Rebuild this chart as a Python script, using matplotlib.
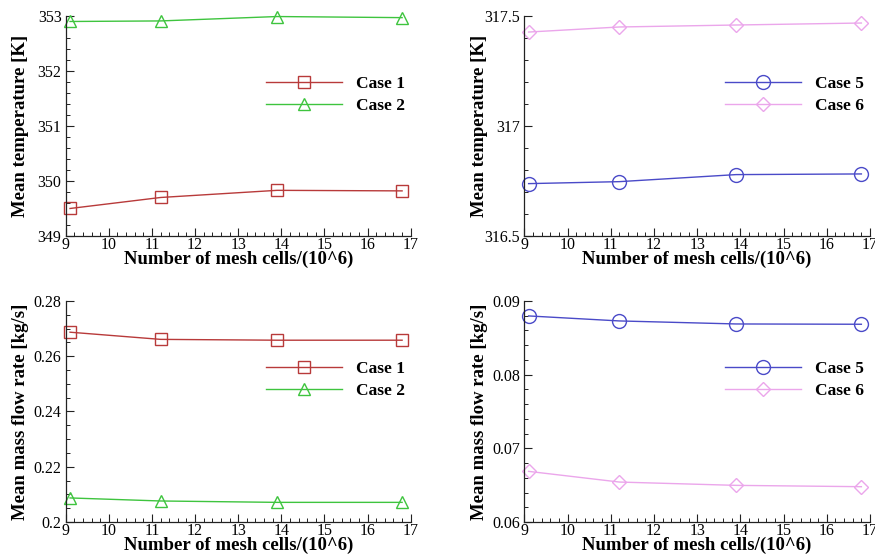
import numpy as np
import matplotlib
matplotlib.use("Agg")
import matplotlib.pyplot as plt
from matplotlib.ticker import MultipleLocator, AutoMinorLocator

plt.rcParams['font.family'] = ['Liberation Serif', 'DejaVu Serif']

# mesh sizes (millions of cells)
cells = [9.1, 11.2, 13.9, 16.8]

# mean temperature [K]
temp_case1 = [349.50, 349.70, 349.83, 349.82]
temp_case2 = [352.90, 352.91, 352.99, 352.97]
temp_case5 = [316.738, 316.747, 316.779, 316.782]
temp_case6 = [317.427, 317.450, 317.459, 317.468]

# mean mass flow rate [kg/s]
flow_case1 = [0.2687, 0.2661, 0.2658, 0.2658]
flow_case2 = [0.2087, 0.2076, 0.2071, 0.2071]
flow_case5 = [0.08797, 0.08729, 0.08688, 0.08684]
flow_case6 = [0.06687, 0.06542, 0.06497, 0.06479]

red = '#b83a3a'
green = '#3ec43e'
blue = '#4a4ac8'
pink = '#eba6eb'

fig = plt.figure(figsize=(8.75, 5.55), dpi=100)

ax_tl = fig.add_axes([0.0751, 0.5748, 0.3943, 0.3964])
ax_tr = fig.add_axes([0.5992, 0.5748, 0.3951, 0.3964])
ax_bl = fig.add_axes([0.0751, 0.0595, 0.3943, 0.3982])
ax_br = fig.add_axes([0.5992, 0.0595, 0.3951, 0.3982])


def style(ax, ylim, ymajor, yminor_n, ylabel):
    ax.set_xlim(9, 17)
    ax.set_ylim(*ylim)
    ax.xaxis.set_major_locator(MultipleLocator(1))
    ax.xaxis.set_minor_locator(AutoMinorLocator(5))
    ax.yaxis.set_major_locator(MultipleLocator(ymajor))
    ax.yaxis.set_minor_locator(AutoMinorLocator(yminor_n))
    ax.spines['top'].set_visible(False)
    ax.spines['right'].set_visible(False)
    for s in ('left', 'bottom'):
        ax.spines[s].set_linewidth(0.9)
        ax.spines[s].set_color('#222222')
    ax.tick_params(which='both', direction='in', labelsize=11.5, colors='#222222',
                   labelcolor='black')
    ax.tick_params(which='major', length=6, width=0.8, pad=3)
    ax.tick_params(axis='x', which='major', pad=1)
    ax.tick_params(which='minor', length=3, width=0.7)
    ax.set_xlabel('Number of mesh cells/(10^6)', fontsize=13.5, fontweight='bold')
    ax.xaxis.set_label_coords(0.5, -0.068)
    ax.set_ylabel(ylabel, fontsize=13.5, fontweight='bold')
    ax.yaxis.set_label_coords(-0.105, 0.5)


def legend(ax):
    ax.legend(loc='upper left', bbox_to_anchor=(0.534, 0.80), frameon=False,
              handlelength=4.4, handletextpad=0.8, labelspacing=0.35,
              prop={'weight': 'bold', 'size': 12.5})


# temperature, cases 1 and 2
ax_tl.plot(cells, temp_case1, color=red, lw=1.0, marker='s', ms=8,
           mfc='none', mec=red, mew=1.0, label='Case 1')
ax_tl.plot(cells, temp_case2, color=green, lw=1.0, marker='^', ms=9,
           mfc='none', mec=green, mew=1.0, label='Case 2')
style(ax_tl, (349, 353), 1, 5, 'Mean temperature [K]')
ax_tl.yaxis.set_major_formatter(plt.FormatStrFormatter('%d'))
legend(ax_tl)

# temperature, cases 5 and 6
ax_tr.plot(cells, temp_case5, color=blue, lw=1.0, marker='o', ms=10,
           mfc='none', mec=blue, mew=1.0, label='Case 5')
ax_tr.plot(cells, temp_case6, color=pink, lw=1.0, marker='D', ms=7.5,
           mfc='none', mec=pink, mew=1.0, label='Case 6')
style(ax_tr, (316.5, 317.5), 0.5, 5, 'Mean temperature [K]')
ax_tr.yaxis.set_major_formatter(plt.FuncFormatter(lambda v, p: f'{v:g}'))
legend(ax_tr)

# mass flow rate, cases 1 and 2
ax_bl.plot(cells, flow_case1, color=red, lw=1.0, marker='s', ms=8,
           mfc='none', mec=red, mew=1.0, label='Case 1')
ax_bl.plot(cells, flow_case2, color=green, lw=1.0, marker='^', ms=9,
           mfc='none', mec=green, mew=1.0, label='Case 2')
style(ax_bl, (0.2, 0.28), 0.02, 4, 'Mean mass flow rate [kg/s]')
ax_bl.yaxis.set_major_formatter(plt.FuncFormatter(lambda v, p: f'{v:g}'))
legend(ax_bl)

# mass flow rate, cases 5 and 6
ax_br.plot(cells, flow_case5, color=blue, lw=1.0, marker='o', ms=10,
           mfc='none', mec=blue, mew=1.0, label='Case 5')
ax_br.plot(cells, flow_case6, color=pink, lw=1.0, marker='D', ms=7.5,
           mfc='none', mec=pink, mew=1.0, label='Case 6')
style(ax_br, (0.06, 0.09), 0.01, 5, 'Mean mass flow rate [kg/s]')
ax_br.yaxis.set_major_formatter(plt.FuncFormatter(lambda v, p: f'{v:g}'))
legend(ax_br)

for ax in (ax_tl, ax_tr, ax_bl, ax_br):
    for ln in ax.lines:
        ln.set_clip_on(False)

fig.savefig('out.png', dpi=100)
